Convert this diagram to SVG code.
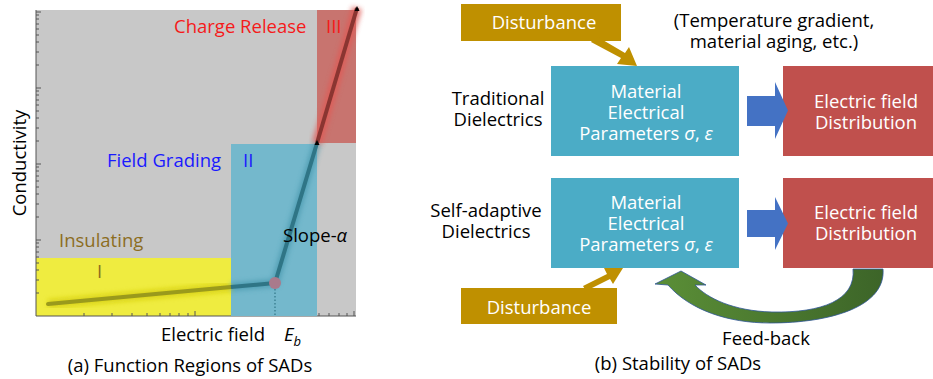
<svg xmlns="http://www.w3.org/2000/svg" width="933" height="379" viewBox="0 0 933 379">
<style>
text{font-family:"Open Sans","Noto Sans","Liberation Sans",sans-serif;font-size:18.5px;fill:#000}
.w{fill:#fff}
.mid{text-anchor:middle}
.tick{stroke:#555;stroke-width:1}
.mat{fill:#4bacc6}
.efd{fill:#c0504d}
.dst{fill:#bf9000}
.barrow{fill:#4472c4}
</style>
<defs>
<filter id="glow" x="-20%" y="-20%" width="140%" height="140%"><feGaussianBlur stdDeviation="2.5"/></filter>
<linearGradient id="gr" x1="655" y1="0" x2="885" y2="0" gradientUnits="userSpaceOnUse">
<stop offset="0" stop-color="#5b8f37"/><stop offset="1" stop-color="#3c6428"/>
</linearGradient>
</defs>

<g id="panel-a">
<rect x="36" y="10" width="320" height="306" fill="#c8c8c8"/>
<rect x="36" y="258" width="195" height="58" fill="#efec40"/>
<rect x="317" y="10" width="39" height="133" fill="#c8746f"/>
<g id="axis-ticks">
<path class="tick" d="M36,316V10M36,316H356"/>
<path class="tick" d="M36,240h5M36,164h5M36,88h5M36,12h5M36,293h3M36,280h3M36,270h3M36,263h3M36,257h3M36,252h3M36,247h3M36,243h3M36,217h3M36,204h3M36,194h3M36,187h3M36,181h3M36,176h3M36,171h3M36,167h3M36,141h3M36,128h3M36,118h3M36,111h3M36,105h3M36,100h3M36,95h3M36,91h3M36,65h3M36,52h3M36,42h3M36,35h3M36,29h3M36,24h3M36,19h3M36,15h3"/>
<path class="tick" d="M84,316v-3M112,316v-3M132,316v-3M147,316v-3M160,316v-3M170,316v-3M179,316v-3M188,316v-3M195,316v-5M319,316v-3M329,316v-3M339,316v-3M347,316v-3M354,316v-5"/>
</g>
<rect x="231" y="144" width="86" height="172" fill="#74b8cc"/>
<g id="curve">
<path d="M48,304L231,287" stroke="#d6cf10" stroke-width="9" fill="none" filter="url(#glow)" opacity="0.8"/>
<path d="M231,287L275,283L317,143" stroke="#3a8fa5" stroke-width="8" fill="none" filter="url(#glow)" opacity="0.6"/>
<path d="M317,143L357,8" stroke="#e05a55" stroke-width="10" fill="none" filter="url(#glow)" opacity="0.8"/>
<path d="M48,304L231,287" stroke="#9a9a1c" stroke-width="4" fill="none" stroke-linecap="round"/>
<path d="M231,287L275,283L317,143" stroke="#2f7586" stroke-width="4" fill="none" stroke-linejoin="round"/>
<path d="M317,143L357,8" stroke="#8a3531" stroke-width="4" fill="none"/>
<path d="M317,140l-2.5,5h5z" fill="#000"/>
<path d="M357,6l-2.5,5h5z" fill="#000"/>
<line x1="275" y1="289" x2="275" y2="316" stroke="#2f7586" stroke-width="1.2" stroke-dasharray="1.5,2"/>
<circle cx="275" cy="283" r="6" fill="#a97a8c"/>
</g>
<text x="174" y="33" fill="#ff1a1a" style="fill:#f51a1a">Charge Release</text>
<text x="326" y="33" style="fill:#f51a1a">III</text>
<text x="107" y="167" style="fill:#1a1aff">Field Grading</text>
<text x="243" y="167" style="fill:#1a1aff">II</text>
<text x="59" y="247" style="fill:#8c6d1f">Insulating</text>
<text x="97" y="278" style="fill:#8c6d1f">I</text>
<text x="283" y="242">Slope-<tspan font-style="italic">α</tspan></text>
<text transform="translate(26,163) rotate(-90)" class="mid">Conductivity</text>
<text x="161" y="341">Electric field</text>
<text x="284" y="341" font-style="italic">E<tspan font-size="13" dy="5">b</tspan></text>
<text x="190" y="372" class="mid">(a) Function Regions of SADs</text>
</g>

<g id="label-traditional">
<text x="498" y="105" class="mid">Traditional</text>
<text x="498" y="126" class="mid">Dielectrics</text>
</g>
<g id="label-selfadaptive">
<text x="486" y="217" class="mid">Self-adaptive</text>
<text x="486" y="238" class="mid">Dielectrics</text>
</g>
<g id="note">
<text x="774" y="27" class="mid">(Temperature gradient,</text>
<text x="774" y="48" class="mid">material aging, etc.)</text>
</g>

<g id="disturbance-top">
<rect class="dst" x="461" y="4" width="160" height="37"/>
<text class="w mid" x="544" y="29">Disturbance</text>
</g>
<g id="material-top">
<rect class="mat" x="551" y="66" width="188" height="90"/>
<text class="w mid" x="646" y="98">Material</text>
<text class="w mid" x="646" y="119">Electrical</text>
<text class="w mid" x="646" y="140">Parameters <tspan font-style="italic">σ</tspan>, <tspan font-style="italic">ε</tspan></text>
</g>
<g id="field-top">
<rect class="efd" x="783" y="66" width="150" height="90"/>
<text class="w mid" x="866" y="108">Electric field</text>
<text class="w mid" x="866" y="129">Distribution</text>
</g>

<g id="material-bottom">
<rect class="mat" x="551" y="178" width="188" height="90"/>
<text class="w mid" x="646" y="209">Material</text>
<text class="w mid" x="646" y="230">Electrical</text>
<text class="w mid" x="646" y="251">Parameters <tspan font-style="italic">σ</tspan>, <tspan font-style="italic">ε</tspan></text>
</g>
<g id="field-bottom">
<rect class="efd" x="783" y="178" width="150" height="90"/>
<text class="w mid" x="866" y="219">Electric field</text>
<text class="w mid" x="866" y="240">Distribution</text>
</g>
<g id="disturbance-bottom">
<rect class="dst" x="461" y="288" width="156" height="36"/>
<text class="w mid" x="539" y="314">Disturbance</text>
</g>

<g id="connectors">
<path class="dst" d="M593,39L596,36L625,53L629,47L637,66L617,64L621,58L591,42Z"/>
<path class="dst" d="M583,286L586,291L610,279L613,284L623,268L604,268L607,274Z"/>
<path class="barrow" d="M747,96H775V82L788,110.5L775,139V126H747Z"/>
<path class="barrow" d="M747,210H775V197L788,223.5L775,250V237H747Z"/>
<path d="M853,269C856,300 822,313 772,312C733,311 707,298 695,285L706,285L681,271L655,284L668,285C690,310 728,323 770,323C832,323 886,306 883,269Z" fill="url(#gr)" stroke="#2f5597" stroke-width="0.8"/>
<text x="766" y="345" class="mid">Feed-back</text>
</g>
<text x="678" y="370" class="mid">(b) Stability of SADs</text>
</svg>
